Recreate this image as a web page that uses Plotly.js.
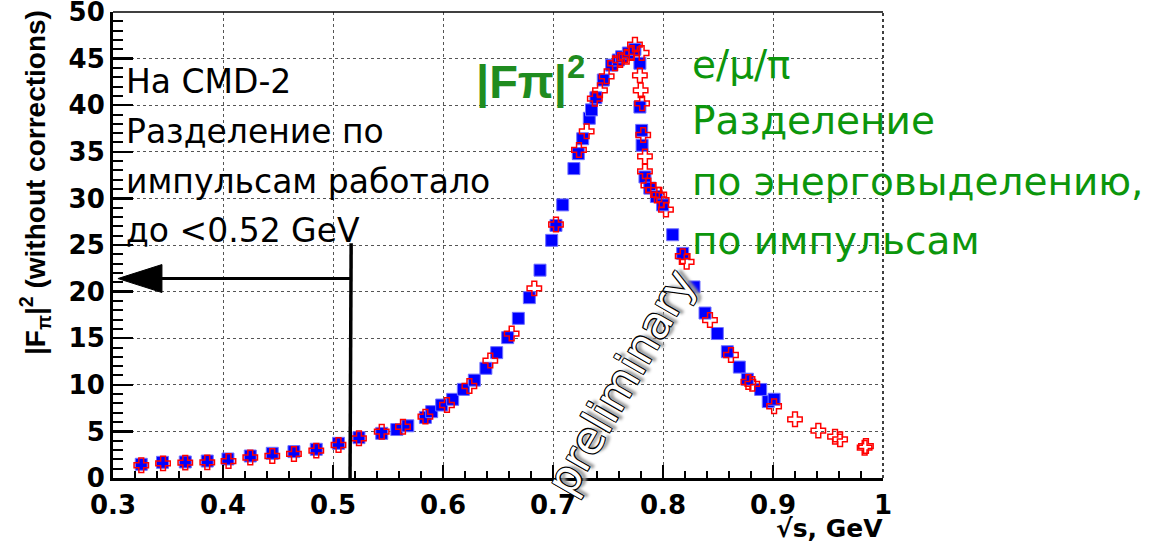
<!DOCTYPE html>
<html>
<head>
<meta charset="utf-8">
<script src="https://cdn.plot.ly/plotly-3.0.1.min.js"></script>
<style>html,body{margin:0;padding:0;background:#fff;}#chart{width:1155px;height:543px;}</style>
</head>
<body>
<div id="chart"></div>
<script>
// Blue squares: sqrt(s) [GeV] and |F_pi|^2
const blueX = [0.3257,0.345,0.3657,0.3857,0.4045,0.4248,0.4448,0.4645,0.4848,0.505,0.5236,0.5443,0.558,0.568,0.584,0.5897,0.5988,0.6088,0.6185,0.6285,0.639,0.6488,0.6588,0.6685,0.6785,0.6882,0.6988,0.7027,0.7088,0.719,0.723,0.727,0.733,0.735,0.739,0.7457,0.7533,0.7594,0.7624,0.7685,0.7745,0.779,0.779,0.7806,0.781,0.7836,0.788,0.794,0.7997,0.8088,0.8179,0.8282,0.8382,0.8494,0.8585,0.8694,0.8767,0.8888,0.8957,0.901];
const blueY = [1.47,1.68,1.72,1.82,2.04,2.36,2.65,2.83,3.08,3.72,4.33,4.79,5.2,5.6,6.5,7.12,7.83,8.44,9.51,10.5,11.77,13.45,15.06,17.13,19.35,22.3,25.5,27.1,29.3,33.2,34.8,36.4,38.6,39.5,40.8,42.7,44.3,44.85,45.2,45.6,46.0,44.5,39.8,37.3,35.7,32.3,31.1,30.2,29.3,26.1,24.1,20.5,17.7,15.5,13.55,11.9,10.6,9.5,8.2,8.45];
// Red open crosses
const redX = [0.3257,0.3455,0.3657,0.3857,0.405,0.4248,0.4448,0.4645,0.4848,0.505,0.5236,0.5443,0.5636,0.584,0.6036,0.624,0.643,0.6624,0.683,0.7027,0.7236,0.7306,0.738,0.7427,0.7488,0.7564,0.761,0.767,0.7715,0.7745,0.7806,0.779,0.7797,0.781,0.782,0.7836,0.7836,0.7867,0.7912,0.7966,0.7988,0.8027,0.8179,0.8215,0.8427,0.8618,0.8776,0.8812,0.901,0.92,0.9412,0.9564,0.961,0.9833,0.9845];
const redY = [1.37,1.57,1.65,1.68,1.82,2.2,2.36,2.58,2.94,3.54,4.26,4.97,5.5,6.58,7.83,9.87,12.6,15.5,20.35,27.2,35.2,37.2,40.7,41.6,43.1,44.5,44.85,45.2,45.6,46.5,45.6,43.2,41.6,40.2,36.8,34.5,32.9,31.4,30.9,30.4,29.8,28.8,23.8,23.2,16.95,13.2,10.3,10.1,7.7,6.3,5.08,4.43,4.15,3.25,3.43];

const yTickVals = [0,5,10,15,20,25,30,35,40,45,50];
const xTickVals = [0.3,0.4,0.5,0.6,0.7,0.8,0.9,1.0];
const xTickText = ['0.3','0.4','0.5','0.6','0.7','0.8','0.9','1'];

const xTitle = '√s, GeV';
const yTitle = '|F<sub>π</sub>|<sup>2</sup> (without corrections)';
const leftLines = ['На CMD-2','Разделение по','импульсам работало','до <0.52 GeV'];
const rightLines = ['e/μ/π','Разделение','по энерговыделению,','по импульсам'];
const greenTitle = '|Fπ|<sup>2</sup>';
const stamp = 'preliminary';

const X0 = 113, X1 = 883, Y0 = 478, Y1 = 12;
const px = p => (p - X0) / (X1 - X0);
const py = p => (Y0 - p) / (Y0 - Y1);

const traces = [
  {x: blueX, y: blueY, type: 'scatter', mode: 'markers', cliponaxis: true,
   marker: {symbol: 'square', size: 12, color: '#0000ff', line: {color: '#7070ff', width: 1}}},
  {x: redX, y: redY, type: 'scatter', mode: 'markers', cliponaxis: true,
   marker: {symbol: 'cross-open', size: 12, color: '#ff0000', line: {color: '#ff0000', width: 1.5}}}
];

const tickFont = {family: 'DejaVu Sans, sans-serif', size: 26, color: '#000', weight: 'bold'};
const textFont = (size, color) => ({family: 'DejaVu Sans, sans-serif', size: size, color: color});

const annotations = [];
const leftC = [81, 131, 181, 231];
leftLines.forEach((t, i) => annotations.push({xref: 'paper', yref: 'paper', x: px(124), y: py(leftC[i]), xanchor: 'left', yanchor: 'middle', text: t, showarrow: false, font: textFont(33, '#000')}));
const rightC = [64, 121, 181, 240];
rightLines.forEach((t, i) => annotations.push({xref: 'paper', yref: 'paper', x: px(690), y: py(rightC[i]), xanchor: 'left', yanchor: 'middle', text: t, showarrow: false, font: textFont(39, '#0c960c')}));
annotations.push({xref: 'paper', yref: 'paper', x: px(474), y: py(78), xanchor: 'left', yanchor: 'middle', text: greenTitle, showarrow: false, font: {family: 'Liberation Sans, Arial, sans-serif', size: 47, color: '#1f8c1f', weight: 'bold'}});
annotations.push({xref: 'paper', yref: 'paper', x: px(620), y: py(382), xanchor: 'center', yanchor: 'middle', text: stamp, textangle: -60, showarrow: false,
  font: {family: 'DejaVu Sans, sans-serif', size: 44, color: '#ffffff', shadow: '1px 1px 0 #000, -1px -1px 0 #000, 1px -1px 0 #000, -1px 1px 0 #000, 4px 4px 3px #999'}});
annotations.push({xref: 'paper', yref: 'paper', x: 1.002, y: py(528), xanchor: 'right', yanchor: 'middle', text: xTitle, showarrow: false, font: {family: 'DejaVu Sans, sans-serif', size: 25, color: '#000', weight: 'bold'}});
annotations.push({xref: 'paper', yref: 'paper', x: px(35), y: py(183), xanchor: 'center', yanchor: 'middle', text: yTitle, textangle: -90, showarrow: false, font: {family: 'Liberation Sans, Arial, sans-serif', size: 28, color: '#000', weight: 'bold'}});

const shapes = [
  {type: 'line', xref: 'paper', yref: 'paper', x0: 0, x1: 1, y0: 1, y1: 1, line: {color: '#000', width: 1.5}},
  {type: 'line', xref: 'paper', yref: 'paper', x0: 1, x1: 1, y0: 0, y1: 1, line: {color: '#000', width: 1.5, dash: 'dot'}},
  {type: 'line', xref: 'x', yref: 'y', x0: 0.5165, x1: 0.5155, y0: 25.2, y1: 0, line: {color: '#000', width: 3.5}},
  {type: 'line', xref: 'x', yref: 'y', x0: 0.5155, x1: 0.340, y0: 21.4, y1: 21.4, line: {color: '#000', width: 3}},
  {type: 'path', xref: 'x', yref: 'y', path: 'M 0.3045 21.4 L 0.3445 22.9 L 0.3445 19.9 Z', fillcolor: '#000', line: {color: '#000', width: 1}}
];

const layout = {
  width: 1155, height: 543,
  margin: {l: 113, r: 272, t: 12, b: 65},
  paper_bgcolor: '#fff', plot_bgcolor: '#fff',
  showlegend: false,
  xaxis: {range: [0.3, 1.0], tickmode: 'array', tickvals: xTickVals, ticktext: xTickText,
    ticks: 'inside', ticklen: 13, tickwidth: 2.5, tickcolor: '#000',
    showline: true, linewidth: 3, linecolor: '#000', zeroline: false,
    showgrid: true, gridcolor: '#555', griddash: 'dot', gridwidth: 1,
    tickfont: tickFont, ticklabelstandoff: 2, ticklabeloverflow: 'allow',
    minor: {tickmode: 'linear', tick0: 0.3, dtick: 0.02, ticks: 'inside', ticklen: 7, tickwidth: 2, tickcolor: '#000', showgrid: false}},
  yaxis: {range: [0, 50], tickmode: 'array', tickvals: yTickVals,
    ticks: 'inside', ticklen: 20, tickwidth: 2.5, tickcolor: '#000',
    showline: true, linewidth: 3, linecolor: '#000', zeroline: false,
    showgrid: true, gridcolor: '#555', griddash: 'dot', gridwidth: 1,
    tickfont: tickFont, ticklabelstandoff: 0, ticklabeloverflow: 'allow',
    minor: {tickmode: 'linear', tick0: 0, dtick: 1, ticks: 'inside', ticklen: 10, tickwidth: 2, tickcolor: '#000', showgrid: false}},
  annotations: annotations,
  shapes: shapes
};

Plotly.newPlot('chart', traces, layout, {displayModeBar: false, staticPlot: true});
</script>
</body>
</html>
